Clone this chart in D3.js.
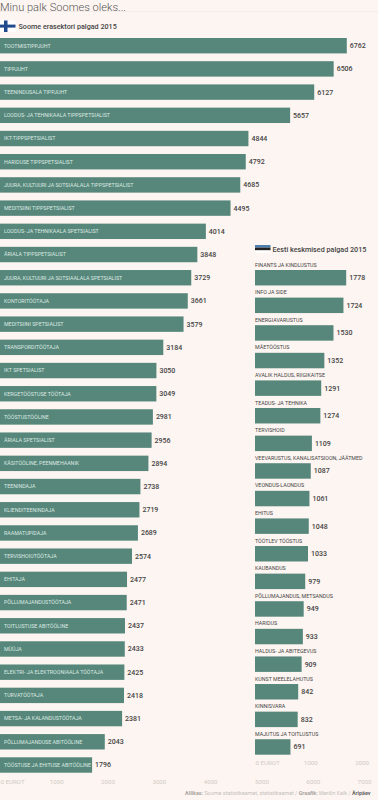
<!DOCTYPE html>
<html>

<head>
    <meta charset="utf-8">
    <title>Minu palk Soomes oleks...</title>
    <script src="https://d3js.org/d3.v7.min.js"></script>
    <style>
        body {
            margin: 0;
            padding: 0;
            background: #fdf5f1;
            font-family: Roboto, sans-serif;
        }

        svg {
            display: block;
        }

        .axis text {
            fill: #cfcac6;
            font-family: Roboto, sans-serif;
            font-size: 6.2px;
        }
    </style>
</head>

<body>
    <div id="chart"></div>
    <script>

        const fiJobs = ['TOOTMISTIPPJUHT', 'TIPPJUHT', 'TEENINDUSALA TIPPJUHT', 'LOODUS- JA TEHNIKAALA TIPPSPETSIALIST',
            'IKT-TIPPSPETSIALIST', 'HARIDUSE TIPPSPETSIALIST', 'JUURA, KULTUURI JA SOTSIAALALA TIPPSPETSIALIST',
            'MEDITSIINI TIPPSPETSIALIST', 'LOODUS- JA TEHNIKAALA SPETSIALIST', 'ÄRIALA TIPPSPETSIALIST',
            'JUURA, KULTUURI JA SOTSIAALALA SPETSIALIST', 'KONTORITÖÖTAJA', 'MEDITSIINI SPETSIALIST',
            'TRANSPORDITÖÖTAJA', 'IKT SPETSIALIST', 'KERGETÖÖSTUSE TÖÖTAJA', 'TÖÖSTUSTÖÖLINE', 'ÄRIALA SPETSIALIST',
            'KÄSITÖÖLINE, PEENMEHAANIK', 'TEENINDAJA', 'KLIENDITEENINDAJA', 'RAAMATUPIDAJA', 'TERVISHOIUTÖÖTAJA',
            'EHITAJA', 'PÕLLUMAJANDUSTÖÖTAJA', 'TOITLUSTUSE ABITÖÖLINE', 'MÜÜJA', 'ELEKTRI- JA ELEKTROONIAALA TÖÖTAJA',
            'TURVATÖÖTAJA', 'METSA- JA KALANDUSTÖÖTAJA', 'PÕLLUMAJANDUSE ABITÖÖLINE', 'TÖÖSTUSE JA EHITUSE ABITÖÖLINE'];
        const fiPay = [6762, 6506, 6127, 5657, 4844, 4792, 4685, 4495, 4014, 3848, 3729, 3661, 3579, 3184, 3050, 3049,
            2981, 2956, 2894, 2738, 2719, 2689, 2574, 2477, 2471, 2437, 2433, 2425, 2418, 2381, 2043, 1796];

        const eeSectors = ['FINANTS JA KINDLUSTUS', 'INFO JA SIDE', 'ENERGIAVARUSTUS', 'MÄETÖÖSTUS',
            'AVALIK HALDUS, RIIGIKAITSE', 'TEADUS- JA TEHNIKA', 'TERVISHOID', 'VEEVARUSTUS, KANALISATSIOON, JÄÄTMED',
            'VEONDUS-LAONDUS', 'EHITUS', 'TÖÖTLEV TÖÖSTUS', 'KAUBANDUS', 'PÕLLUMAJANDUS, METSANDUS', 'HARIDUS',
            'HALDUS- JA ABITEGEVUS', 'KUNST MEELELAHUTUS', 'KINNISVARA', 'MAJUTUS JA TOITLUSTUS'];
        const eePay = [1778, 1724, 1530, 1352, 1291, 1274, 1109, 1087, 1061, 1048, 1033, 979, 949, 933, 909, 842, 832, 691];

        const fiTicks = [0, 1000, 2000, 3000, 4000, 5000, 6000, 7000];
        const eeTicks = [0, 1000, 2000];

        const width = 378;
        const height = 800;
        const barColor = '#56877a';
        const textColor = '#444';

        const svg = d3.select('#chart').append('svg')
            .attr('width', width)
            .attr('height', height);

        svg.append('text')
            .attr('x', 0)
            .attr('y', 10.8)
            .attr('font-size', 11.4)
            .attr('font-weight', 300)
            .attr('fill', '#555')
            .attr('textLength', 126)
            .attr('lengthAdjust', 'spacingAndGlyphs')
            .text('Minu palk Soomes oleks...');

        svg.append('line')
            .attr('x1', 0)
            .attr('x2', width)
            .attr('y1', 11.5)
            .attr('y2', 11.5)
            .attr('stroke', '#f3ece8');

        const xFi = d3.scaleLinear().domain([0, 7000]).range([0, 359]);
        const xEe = d3.scaleLinear().domain([0, 2000]).range([255, 357.6]);

        const yFi = d3.scaleBand().domain(fiJobs).range([38, 772.7]).paddingInner(0.336).paddingOuter(0);
        const yEe = d3.scaleBand().domain(eeSectors).range([270, 754.7]).paddingInner(0.44).paddingOuter(0);

        // left panel
        const fiRows = svg.append('g')
            .selectAll('g')
            .data(fiJobs)
            .enter()
            .append('g');

        fiRows.append('rect')
            .attr('x', 0)
            .attr('y', d => yFi(d))
            .attr('width', (d, i) => xFi(fiPay[i]))
            .attr('height', yFi.bandwidth())
            .attr('fill', barColor);

        fiRows.append('text')
            .attr('x', 4)
            .attr('y', d => yFi(d) + yFi.bandwidth() / 2 + 1.9)
            .attr('font-size', 5.3)
            .attr('fill', '#dce8e2')
            .text(d => d);

        fiRows.append('text')
            .attr('x', (d, i) => xFi(fiPay[i]) + 3)
            .attr('y', d => yFi(d) + yFi.bandwidth() / 2 + 2.5)
            .attr('font-size', 7)
            .attr('font-weight', 500)
            .attr('fill', textColor)
            .text((d, i) => fiPay[i]);

        // right panel
        const eeRows = svg.append('g')
            .selectAll('g')
            .data(eeSectors)
            .enter()
            .append('g');

        eeRows.append('rect')
            .attr('x', xEe(0))
            .attr('y', d => yEe(d))
            .attr('width', (d, i) => xEe(eePay[i]) - xEe(0))
            .attr('height', yEe.bandwidth())
            .attr('fill', barColor);

        eeRows.append('text')
            .attr('x', xEe(0))
            .attr('y', d => yEe(d) - 3.5)
            .attr('font-size', 5.3)
            .attr('fill', textColor)
            .text(d => d);

        eeRows.append('text')
            .attr('x', (d, i) => xEe(eePay[i]) + 3)
            .attr('y', d => yEe(d) + yEe.bandwidth() / 2 + 2.5)
            .attr('font-size', 7)
            .attr('font-weight', 500)
            .attr('fill', textColor)
            .text((d, i) => eePay[i]);

        // axes, labels only
        function drawAxis(scale, ticks, y, shift) {
            const g = svg.append('g')
                .attr('class', 'axis')
                .attr('transform', `translate(${shift},${y})`)
                .call(d3.axisBottom(scale).tickValues(ticks).tickSize(0).tickFormat(d => d === 0 ? '0 EUROT' : d));
            g.select('.domain').remove();
            g.selectAll('.tick text').filter(d => d === 0)
                .attr('text-anchor', 'start')
                .attr('dx', -shift);
        }
        drawAxis(xFi, fiTicks, 776.5, 5);
        drawAxis(xEe, eeTicks, 757.5, 4);

        // panel headings
        svg.append('text')
            .attr('x', 18.5)
            .attr('y', 29)
            .attr('font-size', 7.2)
            .attr('font-weight', 500)
            .attr('fill', textColor)
            .text('Soome erasektori palgad 2015');

        svg.append('text')
            .attr('x', 272.5)
            .attr('y', 251.5)
            .attr('font-size', 7.2)
            .attr('font-weight', 500)
            .attr('fill', textColor)
            .text('Eesti keskmised palgad 2015');

        // flags
        const fiFlag = svg.append('g');
        fiFlag.append('rect').attr('x', 0).attr('y', 20.5).attr('width', 15.5).attr('height', 11.5).attr('fill', '#fff');
        fiFlag.append('rect').attr('x', 4).attr('y', 20.5).attr('width', 3.5).attr('height', 11.5).attr('fill', '#1f4a8c');
        fiFlag.append('rect').attr('x', 0).attr('y', 24.6).attr('width', 15.5).attr('height', 3).attr('fill', '#1f4a8c');

        const eeFlag = svg.append('g');
        eeFlag.append('rect').attr('x', 255).attr('y', 245).attr('width', 15.5).attr('height', 2.6).attr('fill', '#4a7fb0');
        eeFlag.append('rect').attr('x', 255).attr('y', 247.6).attr('width', 15.5).attr('height', 2.8).attr('fill', '#222');
        eeFlag.append('rect').attr('x', 255).attr('y', 250.4).attr('width', 15.5).attr('height', 2.8).attr('fill', '#fff');

        // source line
        const source = svg.append('text')
            .attr('x', 370.5)
            .attr('y', 795)
            .attr('text-anchor', 'end')
            .attr('font-size', 5.4)
            .attr('fill', '#c4bfbb');
        source.append('tspan').attr('font-weight', 700).attr('fill', '#a8a39f').text('Allikas:');
        source.append('tspan').text(' Soome statistikaamet, statistikaamet  /  ');
        source.append('tspan').attr('font-weight', 700).attr('fill', '#a8a39f').text('Graafik:');
        source.append('tspan').text(' Merilin Kalk  /  ');
        source.append('tspan').attr('font-weight', 700).attr('fill', '#666').text('Äripäev');

    </script>

</body>

</html>
